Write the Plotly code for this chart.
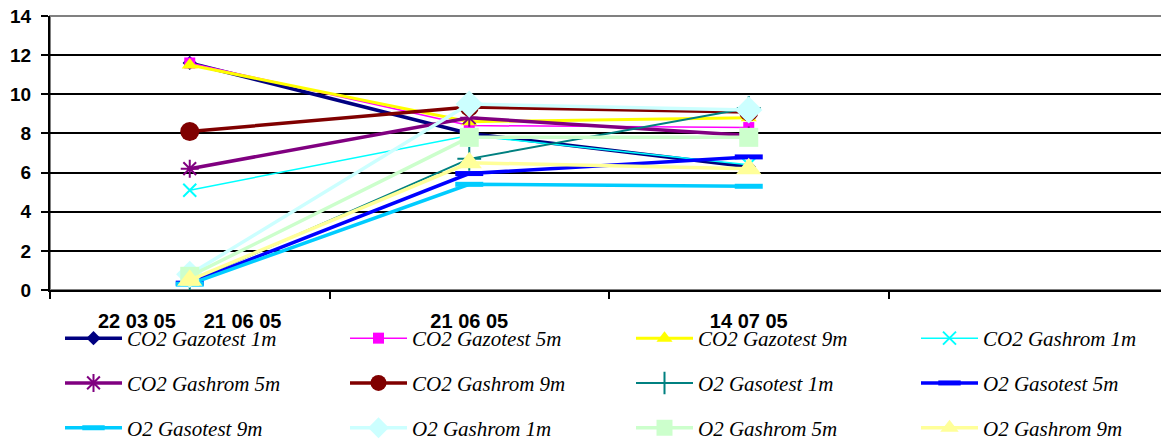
import plotly.graph_objects as go

categories = ["22 03 05" + "\u00a0" * 5 + "21 06 05", "21 06 05", "14 07 05", "\u00a0"]
data_categories = categories[:3]

series_names = [
    "CO2 Gazotest 1m", "CO2 Gazotest 5m", "CO2 Gazotest 9m", "CO2 Gashrom 1m",
    "CO2 Gashrom 5m", "CO2 Gashrom 9m", "O2 Gasotest 1m", "O2 Gasotest 5m",
    "O2 Gasotest 9m", "O2 Gashrom 1m", "O2 Gashrom 5m", "O2 Gashrom 9m",
]
co2_gazotest_1m = [11.6, 8.0, 6.3]
co2_gazotest_5m = [11.6, 8.4, 8.3]
co2_gazotest_9m = [11.5, 8.6, 8.8]
co2_gashrom_1m = [5.1, 7.9, 6.4]
co2_gashrom_5m = [6.2, 8.8, 7.9]
co2_gashrom_9m = [8.1, 9.35, 9.1]
o2_gasotest_1m = [0.4, 6.7, 9.3]
o2_gasotest_5m = [0.35, 5.95, 6.8]
o2_gasotest_9m = [0.3, 5.4, 5.3]
o2_gashrom_1m = [0.8, 9.5, 9.2]
o2_gashrom_5m = [0.7, 7.8, 7.8]
o2_gashrom_9m = [0.5, 6.5, 6.2]
series_values = [
    co2_gazotest_1m, co2_gazotest_5m, co2_gazotest_9m, co2_gashrom_1m,
    co2_gashrom_5m, co2_gashrom_9m, o2_gasotest_1m, o2_gasotest_5m,
    o2_gasotest_9m, o2_gashrom_1m, o2_gashrom_5m, o2_gashrom_9m,
]
y_ticks = [0, 2, 4, 6, 8, 10, 12, 14]

colors = ["#000080", "#FF00FF", "#FFFF00", "#00FFFF", "#800080", "#800000",
          "#008080", "#0000FF", "#00CCFF", "#CCFFFF", "#CCFFCC", "#FFFF99"]
widths = [3.5, 1.5, 3, 1.5, 3.5, 3.5, 2, 3.5, 3.5, 3.5, 3.5, 3.5]
symbols = ["diamond", "square", "triangle-up", "x-thin", "asterisk", "circle",
           "cross-thin", "line-ew", "line-ew", "diamond", "square", "triangle-up"]
sizes = [11, 11, 14, 13, 15, 19, 17, 20, 20, 21, 19, 22]
legend_cols = ["legend", "legend2", "legend3", "legend4"]

# the page adds an 8px body margin; the figure is sized so the whole
# picture still fits the 1169x443 window
W, H = 1161, 435

fig = go.Figure()
for i, (name, vals) in enumerate(zip(series_names, series_values)):
    sym = symbols[i]
    open_sym = sym in ("x-thin", "asterisk", "cross-thin", "line-ew")
    marker = dict(symbol=sym, size=sizes[i], color=colors[i],
                  line=dict(color=colors[i], width=(5 if sym == "line-ew" else 2) if open_sym else 0))
    fig.add_trace(go.Scatter(
        x=data_categories, y=vals, name=name, mode="lines+markers",
        line=dict(color=colors[i], width=widths[i]),
        marker=marker,
        legend=legend_cols[i % 4], legendgroup=name,
    ))

col_x = [52, 337, 623, 908]
legend_common = dict(
    xref="container", yref="container", yanchor="top", xanchor="left",
    orientation="v", traceorder="grouped", tracegroupgap=14.5, itemwidth=57,
    bgcolor="rgba(0,0,0,0)",
    font=dict(family="Liberation Serif", size=21, style="italic", color="#000000"),
)
legend_top = 1 - 310 / H
for k, key in enumerate(legend_cols):
    fig.update_layout(**{key: dict(x=col_x[k] / W, y=legend_top, **legend_common)})

fig.update_layout(
    width=W, height=H,
    margin=dict(l=42, r=1, t=8, b=153, autoexpand=False),
    paper_bgcolor="white", plot_bgcolor="white",
    showlegend=True,
    xaxis=dict(
        type="category", categoryorder="array", categoryarray=categories,
        range=[-0.5, 3.5], tickson="boundaries", ticks="outside", ticklen=7,
        tickcolor="black", tickwidth=2, showgrid=False, showline=True,
        linecolor="black", linewidth=2, ticklabelstandoff=12, tickangle=0,
        tickfont=dict(family="Liberation Sans", size=20, weight="bold", color="black"),
        zeroline=False, fixedrange=True, ticklabeloverflow="allow",
    ),
    yaxis=dict(
        range=[0, 14], tickvals=y_ticks, ticks="outside", ticklen=7,
        tickcolor="black", tickwidth=2, showline=True, linecolor="black",
        linewidth=2, showgrid=True, gridcolor="black", gridwidth=1.5,
        zeroline=False, ticklabelstandoff=6, ticklabeloverflow="allow",
        tickfont=dict(family="Liberation Sans", size=19, weight="bold", color="black"),
    ),
    shapes=[dict(type="rect", xref="paper", yref="paper", x0=0, x1=1, y0=0, y1=1,
                 line=dict(color="#808080", width=2), layer="below")],
)

fig.write_html("out.html")
